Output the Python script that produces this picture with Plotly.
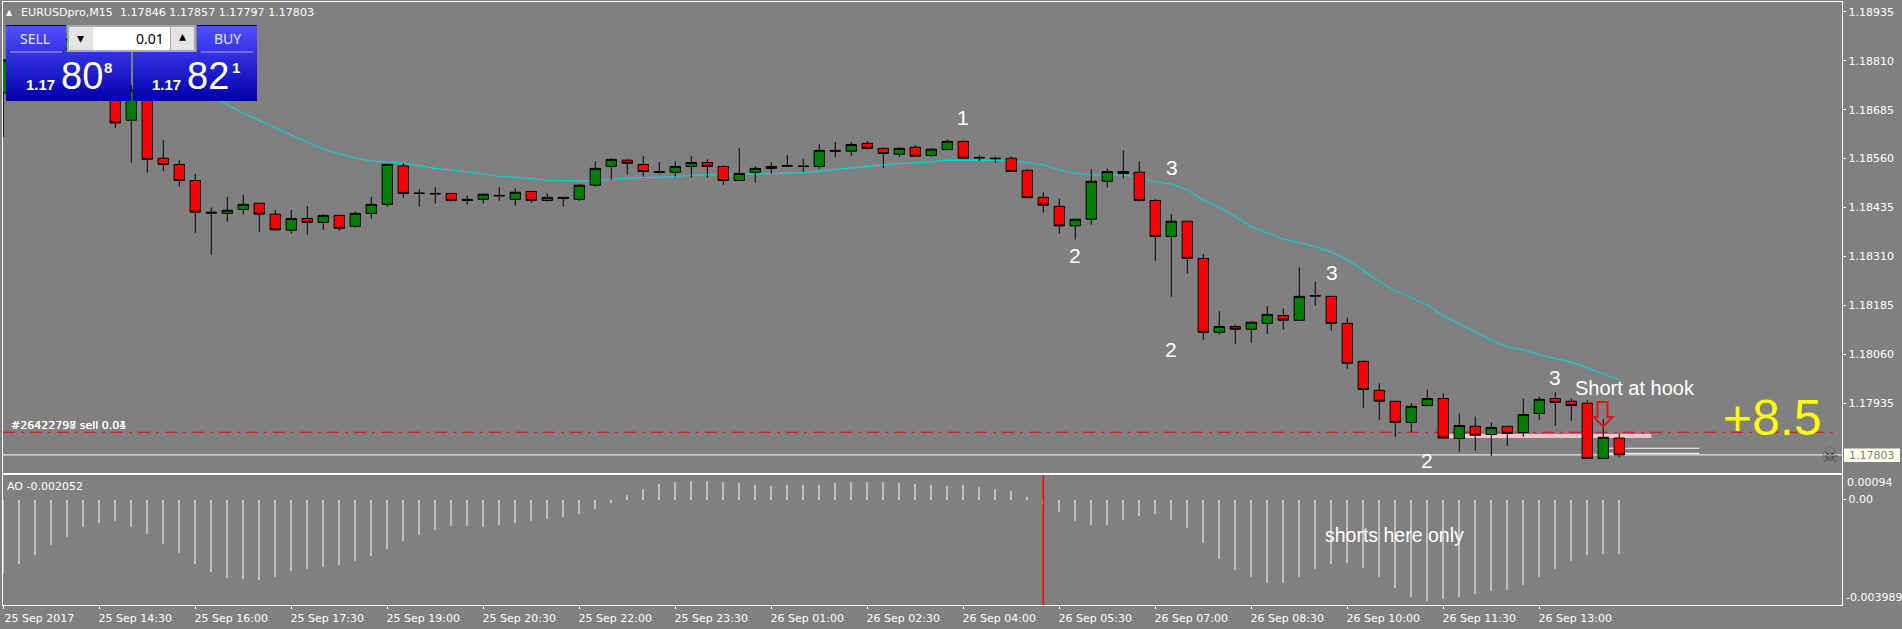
import pandas as pd
import plotly.graph_objects as go

W, H = 1902, 629

# ---------- data (prices in points, 1 point = 0.00001) ----------
open_pts = [118728,118800,118830,118800,118840,118865,118830,118735,118658,118735,118561,118545,118504,118423,118420,118430,118446,118418,118377,118407,118397,118415,118387,118420,118443,118541,118472,118471,118471,118456,118456,118466,118456,118476,118453,118461,118456,118492,118540,118556,118545,118527,118525,118540,118550,118540,118504,118525,118535,118542,118541,118540,118581,118579,118599,118586,118571,118589,118568,118583,118604,118563,118561,118561,118530,118461,118438,118388,118405,118502,118527,118525,118453,118361,118400,118305,118116,118131,118124,118139,118159,118147,118210,118208,118139,118042,117968,117940,117886,117929,117947,117845,117876,117855,117876,117860,117909,117947,117940,117935,117794,117846]
high_pts = [118812,118850,118860,118855,118880,118885,118850,118761,118748,118748,118607,118556,118521,118435,118462,118467,118446,118429,118429,118439,118418,118415,118425,118462,118545,118548,118482,118487,118471,118466,118471,118487,118484,118476,118471,118461,118494,118553,118561,118558,118567,118551,118553,118567,118558,118543,118587,118541,118551,118569,118559,118597,118602,118602,118605,118589,118589,118594,118586,118609,118607,118568,118565,118566,118533,118474,118458,118407,118533,118535,118581,118553,118456,118418,118400,118316,118170,118136,118144,118183,118177,118282,118246,118208,118154,118044,117986,117940,117935,117970,117960,117909,117901,117886,117876,117947,117952,117963,117947,117942,117894,117857]
low_pts = [118615,118790,118790,118785,118825,118820,118770,118638,118549,118524,118528,118488,118370,118314,118399,118417,118373,118376,118368,118365,118378,118376,118383,118406,118437,118460,118437,118445,118450,118442,118445,118452,118440,118447,118450,118437,118452,118488,118506,118519,118514,118521,118514,118511,118511,118493,118504,118498,118521,118539,118526,118534,118564,118567,118583,118536,118564,118566,118564,118583,118560,118554,118549,118527,118460,118422,118368,118353,118391,118486,118509,118450,118299,118207,118266,118097,118110,118087,118089,118112,118123,118147,118184,118120,118023,117923,117893,117849,117862,117929,117844,117811,117813,117800,117826,117849,117893,117877,117890,117794,117794,117797]
close_pts = [118812,118830,118800,118840,118865,118830,118780,118651,118735,118558,118545,118504,118423,118421,118428,118443,118418,118378,118407,118397,118415,118382,118420,118443,118545,118471,118471,118470,118453,118453,118469,118465,118474,118453,118461,118458,118492,118535,118558,118548,118527,118525,118540,118550,118540,118504,118522,118535,118540,118541,118540,118581,118579,118596,118586,118573,118586,118566,118584,118604,118561,118562,118560,118527,118460,118441,118388,118405,118502,118527,118522,118453,118361,118400,118305,118116,118131,118124,118142,118162,118147,118208,118209,118139,118037,117970,117940,117886,117927,117947,117846,117878,117853,117873,117858,117906,117945,117937,117929,117794,117848,117803]
# moving average, first value belongs to bar 12
ma_start = 12
ma_pts = [118730,118717,118698,118676,118657,118638,118620,118602,118584,118573,118561,118554,118551,118549,118542,118535,118531,118526,118521,118515,118512,118509,118504,118503,118503,118503,118508,118510,118512,118512,118514,118518,118519,118518,118519,118521,118522,118523,118524,118528,118532,118536,118541,118544,118547,118549,118552,118556,118556,118556,118556,118555,118550,118544,118531,118522,118518,118518,118518,118513,118501,118495,118480,118454,118435,118412,118386,118370,118354,118345,118335,118321,118301,118274,118246,118222,118204,118186,118158,118137,118117,118096,118080,118071,118059,118050,118040,118025,118009,117995]
ao_values = [-.002812,-.002432,-.00209,-.00171,-.001406,-.001026,-.000874,-.000798,-.001026,-.001292,-.001672,-.002014,-.002432,-.002736,-.002964,-.003002,-.00304,-.002926,-.002698,-.002622,-.002546,-.00247,-.002318,-.002128,-.001862,-.001558,-.00133,-.00114,-.000988,-.000988,-.001026,-.00095,-.000863,-.000798,-.000722,-.000646,-.000532,-.000342,-.000114,.00019,.000418,.000608,.000684,.000722,.000722,.000684,.000646,.00057,.000532,.00057,.00057,.00057,.000646,.000684,.000684,.000684,.000646,.000608,.00057,.000532,.00057,.000494,.000418,.000342,.000114,-.000179,-.000456,-.000798,-.00095,-.00095,-.00076,-.000608,-.000532,-.00076,-.001064,-.001634,-.002242,-.00266,-.002926,-.003154,-.003154,-.002926,-.002622,-.002432,-.002394,-.002584,-.002926,-.003344,-.003686,-.0038,-.003762,-.003686,-.003572,-.003458,-.00342,-.00323,-.002926,-.002622,-.002318,-.00209,-.002052,-.002052]

bar_start = "2017-09-25 13:00"
price_ticks = ["1.18935","1.18810","1.18685","1.18560","1.18435","1.18310","1.18185","1.18060","1.17935"]
time_tick_bars = list(range(0, 102, 6))
time_tick_text = ["25 Sep 2017","25 Sep 14:30","25 Sep 16:00","25 Sep 17:30","25 Sep 19:00","25 Sep 20:30","25 Sep 22:00","25 Sep 23:30","26 Sep 01:00","26 Sep 02:30","26 Sep 04:00","26 Sep 05:30","26 Sep 07:00","26 Sep 08:30","26 Sep 10:00","26 Sep 11:30","26 Sep 13:00"]
bid_price = 1.17803
order_price = 1.17861
pink_price = 1.17851
pink_bars = (90.3, 103)
stop_prices = [1.17820, 1.17807]
stop_bars = (100, 106)
signal_bar = 65

# ---------- scales ----------
BAR_PX = 16.0
X0_PX, X1_PX = 3.0, 1842.3
MAIN_TOP, MAIN_BOT = 2.4, 472.5
SUB_TOP, SUB_BOT = 474.5, 605.0
PRICE_TOP, PRICE_BOT = 1.18959, 1.17758
AO_TOP, AO_BOT = 0.00094, -0.003989

t0 = pd.Timestamp(bar_start)
def t(bar):
    return t0 + pd.Timedelta(minutes=15 * bar)
times = [t(i) for i in range(len(open_pts))]
p = lambda a: [v / 1e5 for v in a]
xrange_ = [t((X0_PX - 3.3) / BAR_PX), t((X1_PX - 3.3) / BAR_PX)]
px = lambda x: x / W
py = lambda y: 1 - y / H

fig = go.Figure()

# moving average (under the candles), order and trade lines
fig.add_trace(go.Scatter(x=times[ma_start:], y=p(ma_pts), mode="lines", line=dict(color="#00d8d8", width=1.1), xaxis="x", yaxis="y", hoverinfo="skip"))
fig.add_trace(go.Scatter(x=[t(pink_bars[0]), t(pink_bars[1])], y=[pink_price]*2, mode="lines", line=dict(color="#ffc0cb", width=4), xaxis="x", yaxis="y", hoverinfo="skip"))
for sp in stop_prices:
    fig.add_trace(go.Scatter(x=[t(stop_bars[0]), t(stop_bars[1])], y=[sp]*2, mode="lines", line=dict(color="#ffffff", width=1), xaxis="x", yaxis="y", hoverinfo="skip"))
fig.add_trace(go.Scatter(x=xrange_, y=[bid_price]*2, mode="lines", line=dict(color="#ffffff", width=1), xaxis="x", yaxis="y", hoverinfo="skip"))
fig.add_trace(go.Scatter(x=[xrange_[0], t((1836-3.3)/BAR_PX)], y=[order_price]*2, mode="lines", line=dict(color="#f00000", width=1.1, dash="12px,6px,3px,6px"), xaxis="x", yaxis="y", hoverinfo="skip"))

# candles on an overlay axis so that they sit on top of the lines
fig.add_trace(go.Candlestick(
    x=times, open=p(open_pts), high=p(high_pts), low=p(low_pts), close=p(close_pts),
    increasing=dict(fillcolor="#008000", line=dict(color="#000000", width=1)),
    decreasing=dict(fillcolor="#ff0000", line=dict(color="#000000", width=1)),
    whiskerwidth=0, xaxis="x", yaxis="y3", hoverinfo="skip"))

# Awesome oscillator
fig.add_trace(go.Bar(x=times, y=ao_values, width=112500, marker=dict(color="#c0c0c0", line=dict(width=0)), xaxis="x2", yaxis="y2", hoverinfo="skip"))
fig.add_trace(go.Scatter(x=[t(signal_bar)]*2, y=[AO_BOT, AO_TOP], mode="lines", line=dict(color="#ff0000", width=1.5), xaxis="x2", yaxis="y2", hoverinfo="skip"))

FONT = "DejaVu Sans"
axis_common = dict(showgrid=False, zeroline=False, showline=True, linecolor="#ffffff", linewidth=1, mirror=True)
fig.update_layout(
    width=W, height=H, margin=dict(l=0, r=0, t=0, b=0), autosize=False,
    paper_bgcolor="#808080", plot_bgcolor="#808080", showlegend=False, boxgap=0.19, boxgroupgap=0.2, bargap=0,
    font=dict(family=FONT, size=11, color="#ffffff"),
    xaxis=dict(domain=[px(X0_PX), px(X1_PX)], range=xrange_, type="date", anchor="y", showticklabels=False, ticks="", rangeslider=dict(visible=False), **axis_common),
    yaxis=dict(domain=[py(MAIN_BOT), py(MAIN_TOP)], range=[PRICE_BOT, PRICE_TOP], side="right", anchor="x",
               tickvals=[float(s) for s in price_ticks], ticktext=price_ticks, ticks="outside", ticklen=3, tickcolor="#ffffff", **axis_common),
    yaxis3=dict(overlaying="y", range=[PRICE_BOT, PRICE_TOP], visible=False, side="right", anchor="x"),
    xaxis2=dict(domain=[px(X0_PX), px(X1_PX)], range=xrange_, type="date", anchor="y2",
                tickvals=[times[i] for i in time_tick_bars], ticktext=time_tick_text, tickangle=0,
                ticks="outside", ticklen=3, tickcolor="#ffffff", ticklabelshift=36, **axis_common),
    yaxis2=dict(domain=[py(SUB_BOT), py(SUB_TOP)], range=[AO_BOT, AO_TOP], side="right", anchor="x2",
                tickvals=[0], ticktext=["0.00"], ticks="outside", ticklen=3, tickcolor="#ffffff", **axis_common),
)

shapes, notes = [], []
def rect(x0, y0, x1, y1, fill, line=None):
    shapes.append(dict(type="rect", xref="paper", yref="paper", x0=px(x0), x1=px(x1), y0=py(y0), y1=py(y1),
                       fillcolor=fill, line=dict(width=1 if line else 0, color=line or fill), layer="above"))
def note(x, y, text, size=11, color="#ffffff", family=FONT, anchor="center", bg=None, bold=False):
    d = dict(xref="paper", yref="paper", x=px(x), y=py(y), text=("<b>%s</b>" % text) if bold else text, showarrow=False,
             xanchor=anchor, yanchor="middle", font=dict(size=size, color=color, family=family), borderpad=0, borderwidth=0)
    if bg:
        d["bgcolor"] = bg
    notes.append(d)
def lerp(c0, c1, f):
    return "rgb(%d,%d,%d)" % tuple(round(a + (b - a) * f) for a, b in zip(c0, c1))
def gradient(x0, y0, x1, y1, c0, c1):
    y = y0
    while y < y1:
        rect(x0, y, x1, min(y + 2, y1), lerp(c0, c1, (y - y0) / (y1 - y0)))
        y += 2

# hollow entry arrow
shapes.append(dict(type="path", xref="paper", yref="paper", layer="above", line=dict(color="#e01515", width=2), fillcolor="rgba(0,0,0,0)",
    path="M %f %f L %f %f L %f %f L %f %f L %f %f L %f %f L %f %f Z" % (
        px(1597.5), py(402), px(1607.5), py(402), px(1607.5), py(417), px(1612.5), py(417),
        px(1603.3), py(426.5), px(1593.5), py(417), px(1597.5), py(417))))

# trade panel
gradient(6, 25, 66, 52, (80, 80, 255), (50, 50, 225))
gradient(197, 25, 257, 52, (80, 80, 255), (50, 50, 225))
gradient(6, 52, 131, 101, (50, 50, 225), (0, 0, 170))
gradient(133, 52, 257, 101, (50, 50, 225), (0, 0, 170))
rect(6, 25, 66, 26, "#0000a0"); rect(197, 25, 257, 26, "#0000a0")
rect(67, 25, 196, 52, "#a8a8a8")
rect(69, 27, 93, 50, "#e4e4e4"); rect(171, 27, 194, 50, "#e4e4e4")
rect(93, 27, 170, 50, "#ffffff")
rect(10, 51.5, 62, 52.5, "#a0a8ff"); rect(201, 51.5, 253, 52.5, "#a0a8ff")
note(35, 38.5, "SELL", 14, "#e8e8ff", "Noto Sans")
note(227, 38.5, "BUY", 14, "#e8e8ff", "Noto Sans")
note(164, 38, "0.01", 14, "#000000", "Noto Sans", anchor="right")
note(80, 38, "▾", 14, "#000000"); note(182, 36, "▴", 14, "#000000")
note(26, 85, "1.17", 15, family="Liberation Sans", anchor="left", bold=True)
note(61, 76, "80", 38, family="Liberation Sans", anchor="left")
note(104, 67, "8", 15, family="Liberation Sans", anchor="left", bold=True)
note(152, 85, "1.17", 15, family="Liberation Sans", anchor="left", bold=True)
note(187, 76, "82", 38, family="Liberation Sans", anchor="left")
note(232, 67, "1", 15, family="Liberation Sans", anchor="left", bold=True)

# chart texts
note(6, 12.5, "▲", 8, anchor="left")
note(21, 12.5, "EURUSDpro,M15  1.17846 1.17857 1.17797 1.17803", 11.1, anchor="left")
note(11, 425, "#26422798 sell 0.04", 11, anchor="left")
note(11, 425, "#26422797 sell 0.01", 11, anchor="left")
note(7, 486, "AO -0.002052", 11, anchor="left")
note(1847, 483, "0.00094", 11, anchor="left")
note(1846, 597.5, "-0.003989", 11, anchor="left")
rect(1844, 448.5, 1900, 462, "#fffff0")
note(1849, 455.5, "1.17803", 11, "#808080", anchor="left")
note(1830, 455, "☠", 20, "#4f4f4f")
SANS = "Liberation Sans"
for x, y, s in [(963, 118, "1"), (1075, 255, "2"), (1172, 167, "3"), (1171, 350, "2"), (1332, 272, "3"), (1427, 460, "2"), (1555, 377, "3")]:
    note(x, y, s, 21, family=SANS)
note(1635, 388, "Short at hook", 20, family=SANS)
note(1394, 535, "shorts here only", 19.5, family=SANS)
note(1772, 418, "+8.5", 50, "#ffff00", SANS)

fig.update_layout(shapes=shapes, annotations=notes)
fig.write_html("out.html", config={"displayModeBar": False},
               post_script="document.body.style.margin='0';document.documentElement.style.overflow='hidden';")
